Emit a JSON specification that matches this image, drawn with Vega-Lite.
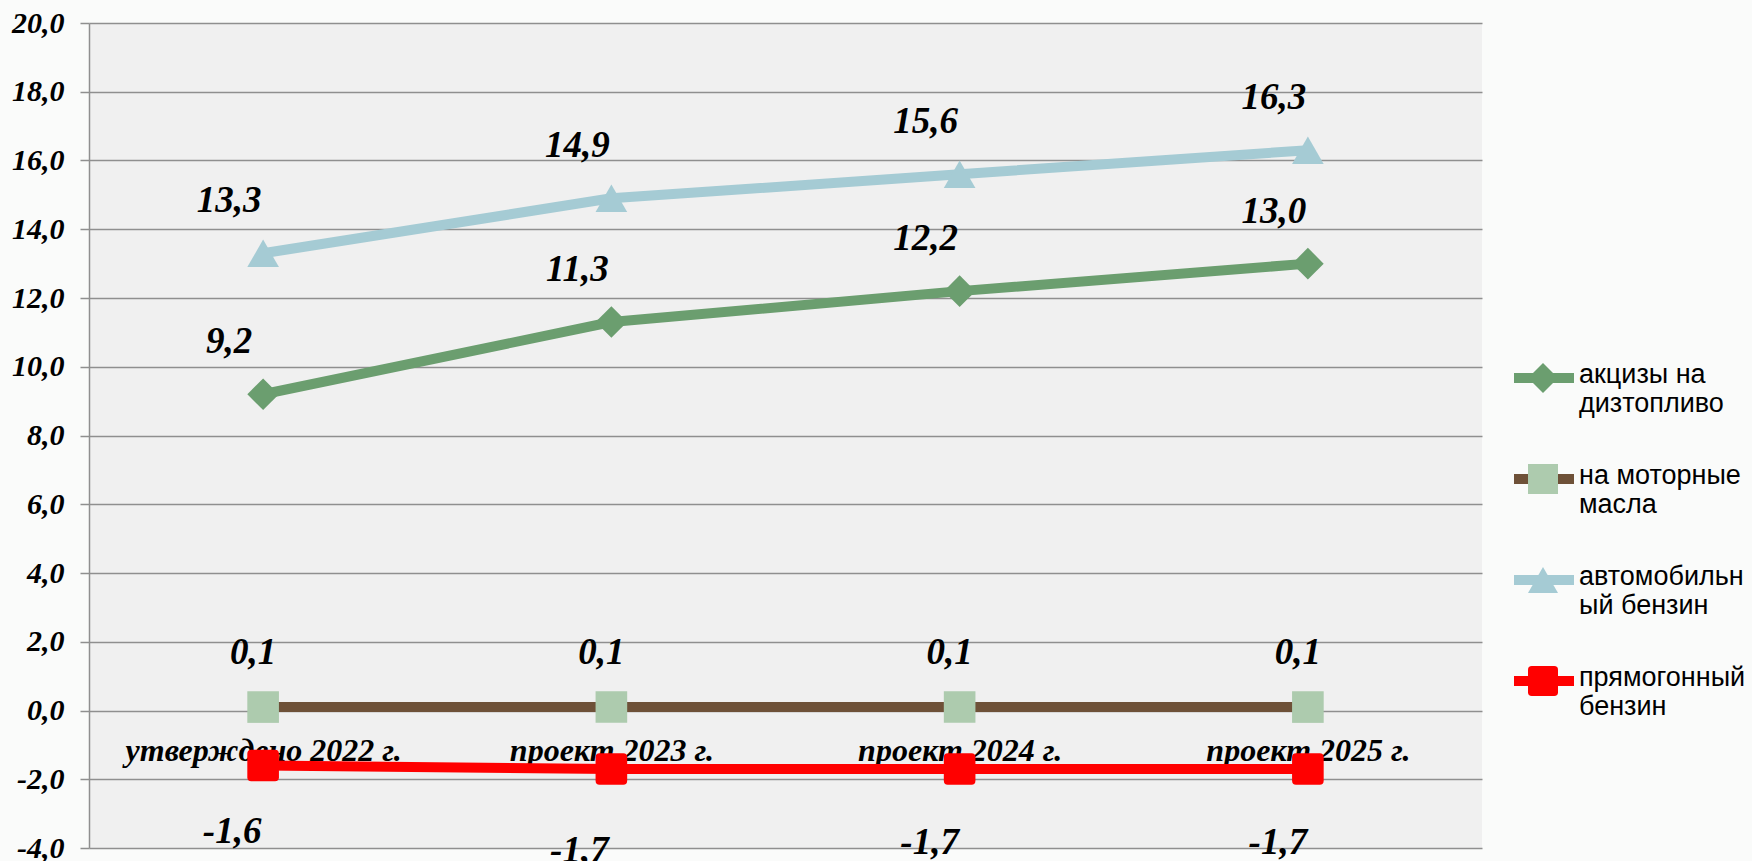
{
  "$schema": "https://vega.github.io/schema/vega-lite/v6.json",
  "width": 1393,
  "height": 825,
  "autosize": {"type": "none"},
  "padding": {"left": 89, "top": 23, "right": 270, "bottom": 13},
  "background": "#FAFBFA",
  "config": {
    "locale": {"number": {"decimal": ",", "thousands": " ", "grouping": [3], "currency": ["", ""], "minus": "-"}},
    "view": {"fill": "#F0F0F0", "stroke": null}
  },
  "data": {
    "values": [
      {"period": "утверждено 2022 г.", "series": "акцизы на дизтопливо", "value": 9.2},
      {"period": "проект 2023 г.", "series": "акцизы на дизтопливо", "value": 11.3},
      {"period": "проект 2024 г.", "series": "акцизы на дизтопливо", "value": 12.2},
      {"period": "проект 2025 г.", "series": "акцизы на дизтопливо", "value": 13.0},
      {"period": "утверждено 2022 г.", "series": "на моторные масла", "value": 0.1},
      {"period": "проект 2023 г.", "series": "на моторные масла", "value": 0.1},
      {"period": "проект 2024 г.", "series": "на моторные масла", "value": 0.1},
      {"period": "проект 2025 г.", "series": "на моторные масла", "value": 0.1},
      {"period": "утверждено 2022 г.", "series": "автомобильный бензин", "value": 13.3},
      {"period": "проект 2023 г.", "series": "автомобильный бензин", "value": 14.9},
      {"period": "проект 2024 г.", "series": "автомобильный бензин", "value": 15.6},
      {"period": "проект 2025 г.", "series": "автомобильный бензин", "value": 16.3},
      {"period": "утверждено 2022 г.", "series": "прямогонный бензин", "value": -1.6},
      {"period": "проект 2023 г.", "series": "прямогонный бензин", "value": -1.7},
      {"period": "проект 2024 г.", "series": "прямогонный бензин", "value": -1.7},
      {"period": "проект 2025 г.", "series": "прямогонный бензин", "value": -1.7}
    ]
  },
  "encoding": {
    "x": {
      "field": "period", "type": "nominal",
      "sort": ["утверждено 2022 г.", "проект 2023 г.", "проект 2024 г.", "проект 2025 г."],
      "scale": {"type": "point", "padding": 0.5},
      "axis": {
        "title": null, "orient": "bottom", "offset": -136, "domain": false, "ticks": false,
        "labelAngle": 0, "labelPadding": 23, "labelLimit": 500,
        "labelFont": "Liberation Serif", "labelFontSize": 32, "labelFontStyle": "italic", "labelFontWeight": "bold",
        "labelColor": "#000000", "grid": false, "zindex": 0
      }
    },
    "y": {
      "field": "value", "type": "quantitative",
      "scale": {"domain": [-4, 20], "nice": false, "zero": false},
      "axis": {
        "title": null, "values": [-4, -2, 0, 2, 4, 6, 8, 10, 12, 14, 16, 18, 20], "format": ".1f",
        "grid": true, "gridColor": "#8F8F8F", "gridWidth": 1.5,
        "domain": true, "domainColor": "#8F8F8F", "domainWidth": 1.5,
        "ticks": true, "tickSize": 9, "tickColor": "#8F8F8F", "tickWidth": 1.5,
        "labelPadding": 16, "labelFont": "Liberation Serif", "labelFontSize": 30,
        "labelFontStyle": "italic", "labelFontWeight": "bold", "labelColor": "#000000"
      }
    }
  },
  "layer": [
    {
      "mark": {"type": "line", "strokeWidth": 10, "strokeCap": "butt"},
      "encoding": {
        "color": {
          "field": "series", "type": "nominal",
          "scale": {
            "domain": ["акцизы на дизтопливо", "на моторные масла", "автомобильный бензин", "прямогонный бензин"],
            "range": ["#6B9E6F", "#6E5138", "#A5CBD4", "#FF0000"]
          },
          "legend": {
            "title": null, "orient": "none", "legendX": 1420, "legendY": 323,
            "symbolType": "stroke", "symbolStrokeWidth": 10, "symbolSize": 3600, "clipHeight": 64,
            "labelFont": "Liberation Sans", "labelFontSize": 27, "labelColor": "#000000",
            "labelBaseline": "top", "labelOffset": 0, "rowPadding": 30, "labelLimit": 400,
            "encode": {"labels": {"update": {"dy": {"value": -16}}}},
            "labelExpr": "datum.label == 'акцизы на дизтопливо' ? ['акцизы на', 'дизтопливо'] : datum.label == 'на моторные масла' ? ['на моторные', 'масла'] : datum.label == 'автомобильный бензин' ? ['автомобильн', 'ый бензин'] : ['прямогонный', 'бензин']"
          }
        },
        "detail": {"field": "series"}
      }
    },
    {
      "transform": [{"calculate": "datum.series + ' *'", "as": "marker"}],
      "mark": {"type": "point", "filled": true, "opacity": 1, "strokeWidth": 0, "size": 1000},
      "encoding": {
        "shape": {
          "field": "marker", "type": "nominal",
          "scale": {
            "domain": ["акцизы на дизтопливо *", "на моторные масла *", "автомобильный бензин *", "прямогонный бензин *"],
            "range": ["diamond", "square", "triangle-up", "M-1,-0.75Q-1,-1,-0.75,-1L0.75,-1Q1,-1,1,-0.75L1,0.75Q1,1,0.75,1L-0.75,1Q-1,1,-1,0.75Z"]
          },
          "legend": {
            "title": null, "orient": "none", "legendX": 1438, "legendY": 323,
            "symbolSize": 900, "clipHeight": 64,
            "labelFont": "Liberation Sans", "labelFontSize": 27, "labelColor": "rgba(0,0,0,0)",
            "labelBaseline": "top", "labelOffset": 0, "rowPadding": 14, "labelLimit": 400,
            "labelExpr": "['акцизы на', 'дизтопливо']"
          }
        },
        "fill": {
          "field": "marker", "type": "nominal",
          "scale": {
            "domain": ["акцизы на дизтопливо *", "на моторные масла *", "автомобильный бензин *", "прямогонный бензин *"],
            "range": ["#6B9E6F", "#ADCBAE", "#A5CBD4", "#FF0000"]
          }
        }
      }
    },
    {
      "transform": [{"filter": "datum.value > 1"}],
      "mark": {"type": "text", "dx": -34, "dy": -52, "font": "Liberation Serif", "fontSize": 37, "fontStyle": "italic", "fontWeight": "bold", "color": "#000000", "align": "center", "baseline": "middle"},
      "encoding": {"text": {"field": "value", "type": "quantitative", "format": ".1f"}}
    },
    {
      "transform": [{"filter": "datum.value > 0 && datum.value < 1"}],
      "mark": {"type": "text", "dx": -10, "dy": -54, "font": "Liberation Serif", "fontSize": 37, "fontStyle": "italic", "fontWeight": "bold", "color": "#000000", "align": "center", "baseline": "middle"},
      "encoding": {"text": {"field": "value", "type": "quantitative", "format": ".1f"}}
    },
    {
      "transform": [{"filter": "datum.value < 0 && datum.period == 'утверждено 2022 г.'"}],
      "mark": {"type": "text", "dx": -31, "dy": 66, "font": "Liberation Serif", "fontSize": 37, "fontStyle": "italic", "fontWeight": "bold", "color": "#000000", "align": "center", "baseline": "middle"},
      "encoding": {"text": {"field": "value", "type": "quantitative", "format": ".1f"}}
    },
    {
      "transform": [{"filter": "datum.value < 0 && datum.period == 'проект 2023 г.'"}],
      "mark": {"type": "text", "dx": -32, "dy": 82, "font": "Liberation Serif", "fontSize": 37, "fontStyle": "italic", "fontWeight": "bold", "color": "#000000", "align": "center", "baseline": "middle"},
      "encoding": {"text": {"field": "value", "type": "quantitative", "format": ".1f"}}
    },
    {
      "transform": [{"filter": "datum.value < 0 && datum.period != 'утверждено 2022 г.' && datum.period != 'проект 2023 г.'"}],
      "mark": {"type": "text", "dx": -30, "dy": 74, "font": "Liberation Serif", "fontSize": 37, "fontStyle": "italic", "fontWeight": "bold", "color": "#000000", "align": "center", "baseline": "middle"},
      "encoding": {"text": {"field": "value", "type": "quantitative", "format": ".1f"}}
    }
  ]
}
